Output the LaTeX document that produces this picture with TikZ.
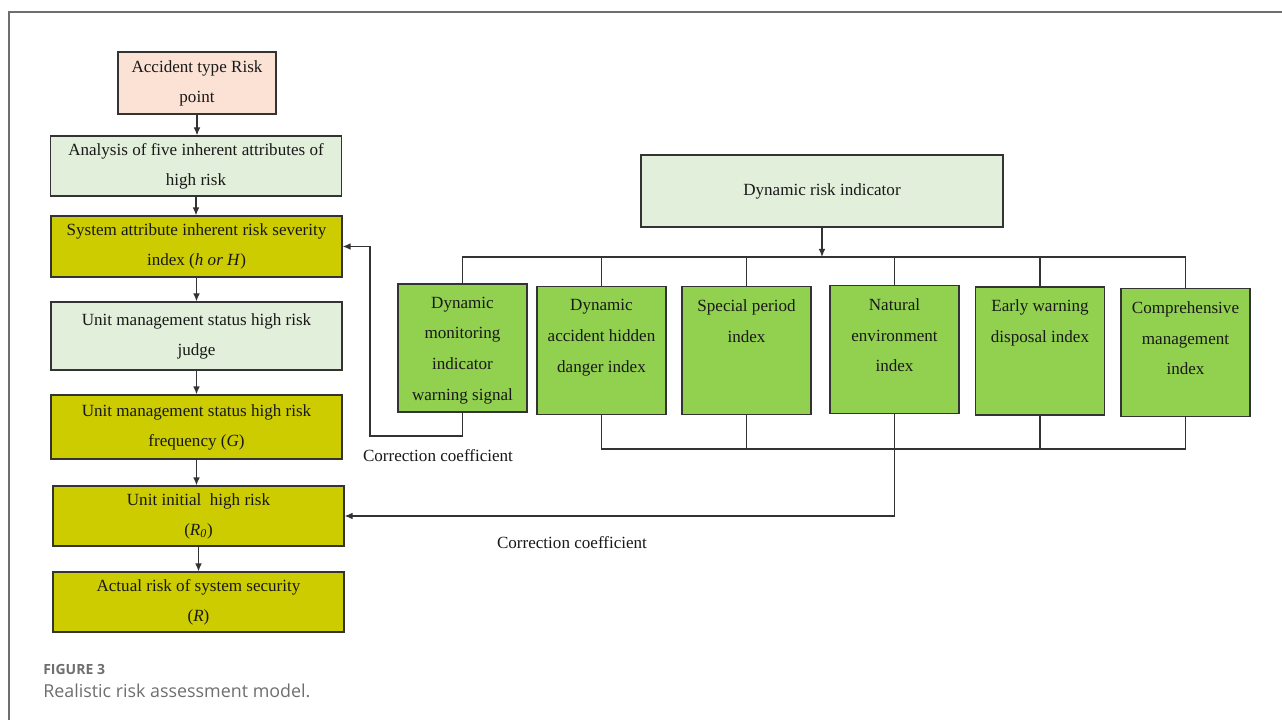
\documentclass[tikz,border=0pt]{standalone}
\usepackage{fontspec}
\setmainfont{Liberation Serif}
\newfontfamily\capfont{Open Sans}
\usepackage{xcolor}
\usetikzlibrary{arrows.meta, positioning}
\definecolor{blush}{HTML}{FBE2D5}
\definecolor{mint}{HTML}{E2EFDA}
\definecolor{mustard}{HTML}{CCCC00}
\definecolor{leaf}{HTML}{92D050}
\definecolor{ink}{HTML}{333333}
\definecolor{capgray}{HTML}{6E6E6E}

\begin{document}
\begin{tikzpicture}[x=0.75pt, y=-0.75pt,
      every node/.style={font=\fontsize{12.8}{22.5}\selectfont, text=black!90},
      f/.style={draw=ink, line width=0.9pt, align=center, inner sep=2pt,
                minimum width=218.25pt, minimum height=45pt},
      peach/.style={fill=blush},
      pale/.style={fill=mint},
      gold/.style={fill=mustard},
      ind/.style={draw=ink, line width=0.9pt, fill=leaf,
                  minimum width=96.75pt, minimum height=96pt},
      tag/.style={anchor=north, align=center, inner sep=0pt,
                  font=\fontsize{12.8}{23}\selectfont},
      ln/.style={draw=ink, line width=0.9pt},
      arr/.style={ln, -{Latex[length=6pt,width=5pt]}}]
    \useasboundingbox (0,0) rectangle (1282,720);
    \draw[capgray, line width=0.8pt] (1282,12) -- (9,12) -- (9,720);

    % left column
    \node[f, peach, minimum width=118.5pt, minimum height=46.5pt] (acc) at (197,83) {Accident type Risk\\point};
    \node[f, pale] (ana) at (196,166) {Analysis of five inherent attributes of\\high risk};
    \node[f, gold, minimum height=45.75pt] (sev) at (196.5,246.5) {System attribute inherent risk severity\\index (\textit{h or H})};
    \node[f, pale, minimum height=51pt] (jud) at (196.5,336) {Unit management status high risk\\judge};
    \node[f, gold, minimum height=48pt] (frq) at (196.5,427) {Unit management status high risk\\frequency (\textit{G})};
    \node[f, gold] (ini) at (198.5,516) {Unit initial\ \ high risk\\(\textit{R}\textsubscript{\textit{0}})};
    \node[f, gold] (act) at (198.5,602) {Actual risk of system security\\(\textit{R})};

    \draw[arr] (acc.south) -- (acc.south |- ana.north);
    \draw[arr] (ana.south) -- (ana.south |- sev.north);
    \draw[arr] (sev.south) -- (sev.south |- jud.north);
    \draw[arr] (jud.south) -- (jud.south |- frq.north);
    \draw[arr] (frq.south) -- (frq.south |- ini.north);
    \draw[arr] (ini.south) -- (ini.south |- act.north);

    % dynamic indicators
    \node[f, pale, minimum width=271.5pt, minimum height=54pt] (dyn) at (822,191) {Dynamic risk indicator};
    \node[ind] (mon) at (462.5,348) {};
    \node[ind] (hid) at (601.5,350.5) {};
    \node[ind] (spe) at (746.5,350.5) {};
    \node[ind] (nat) at (894.5,349.5) {};
    \node[ind] (ear) at (1040,351) {};
    \node[ind] (com) at (1185.5,352.5) {};
    \node[tag] (mont) at ([yshift=-10pt]mon.north) {Dynamic\\monitoring\\indicator\\warning signal};
    \node[tag] (hidt) at ([yshift=-10pt]hid.north) {Dynamic\\accident hidden\\danger index};
    \node[tag] (spet) at ([yshift=-10pt]spe.north) {Special period\\index};
    \node[tag] (natt) at ([yshift=-10pt]nat.north) {Natural\\environment\\index};
    \node[tag] (eart) at ([yshift=-10pt]ear.north) {Early warning\\disposal index};
    \node[tag] (comt) at ([yshift=-10pt]com.north) {Comprehensive\\management\\index};

    \coordinate (up) at (822,257);
    \coordinate (low) at (895,449);
    \coordinate (back) at (370,436);
    \draw[arr] (dyn.south) -- (dyn.south |- up);
    \draw[ln] (mon.north) -- (mon.north |- up) -- (com.north |- up) -- (com.north);
    \draw[ln] (hid.north) -- (hid.north |- up);
    \draw[ln] (spe.north) -- (spe.north |- up);
    \draw[ln] (nat.north) -- (nat.north |- up);
    \draw[ln] (ear.north) -- (ear.north |- up);
    \draw[ln] (hid.south) -- (hid.south |- low) -- (com.south |- low) -- (com.south);
    \draw[ln] (spe.south) -- (spe.south |- low);
    \draw[ln] (ear.south) -- (ear.south |- low);

    % correction feedback
    \draw[arr] (nat.south) |- (ini.east);
    \draw[arr] (mon.south) |- (back) |- (sev.east);
    \node (cor1) at (438,456) {Correction coefficient};
    \node (cor2) at (572,543) {Correction coefficient};

    % caption
    \node[anchor=base west, inner sep=0pt, text=capgray,
          font=\capfont\bfseries\fontsize{10.5}{12}\selectfont] (fig) at (43,674) {FIGURE 3};
    \node[anchor=base west, inner sep=0pt, text=capgray,
          font=\capfont\fontsize{13.4}{15}\selectfont] (cap) at (43,697) {Realistic risk assessment model.};
  \end{tikzpicture}
\end{document}
